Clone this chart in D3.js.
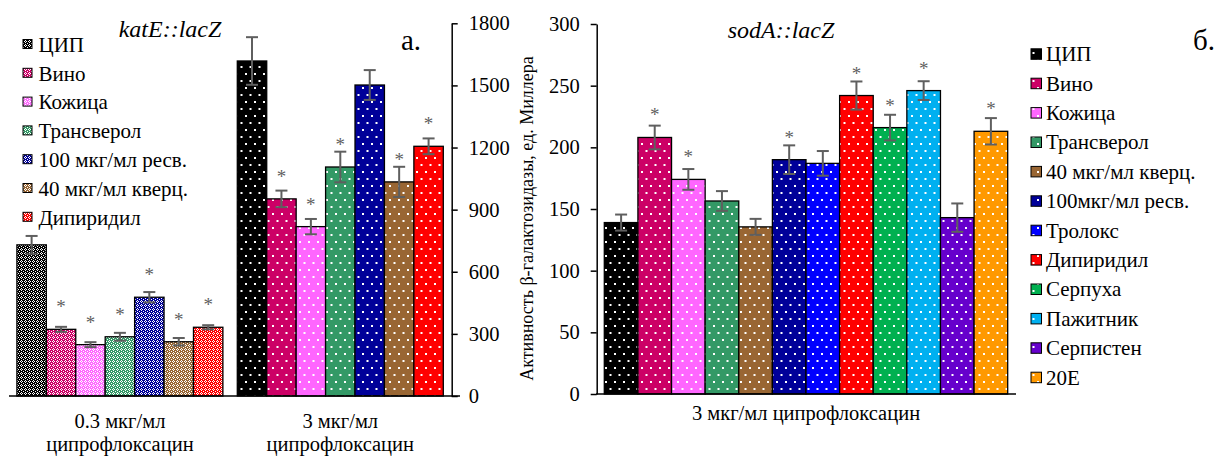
<!DOCTYPE html>
<html>
<head>
<meta charset="utf-8">
<script src="https://cdn.jsdelivr.net/npm/d3@7"></script>
<style>
  html, body { margin: 0; padding: 0; background: #fff; }
  svg { display: block; }
</style>
</head>
<body>
<svg id="chart" width="1219" height="456"></svg>
<script>
// ---- Panel a: katE::lacZ ----
const catsA = ["0.3 мкг/мл|ципрофлоксацин", "3 мкг/мл|ципрофлоксацин"];
const seriesA = ["ЦИП", "Вино", "Кожица", "Трансверол", "100 мкг/мл ресв.", "40 мкг/мл кверц.", "Дипиридил"];
const colorsA = ["#000000", "#CC0066", "#FF66FF", "#339966", "#000099", "#996633", "#FF0000"];
const valuesA03 = [730, 322, 248, 286, 477, 262, 332];
const errorsA03 = [43, 12, 12, 19, 25, 18, 10];
const starsA03 = [false, true, true, true, true, true, true];
const valuesA3 = [1618, 952, 818, 1106, 1502, 1034, 1206];
const errorsA3 = [115, 40, 37, 74, 72, 73, 38];
const starsA3 = [false, true, true, true, false, true, true];
const ticksA = [0, 300, 600, 900, 1200, 1500, 1800];

// ---- Panel б: sodA::lacZ ----
const seriesB = ["ЦИП", "Вино", "Кожица", "Трансверол", "40 мкг/мл кверц.", "100мкг/мл ресв.", "Тролокс", "Дипиридил", "Серпуха", "Пажитник", "Серпистен", "20E"];
const colorsB = ["#000000", "#CC0066", "#FF66FF", "#339966", "#996633", "#000099", "#0000FF", "#FF0000", "#00B050", "#00B0F0", "#6600CC", "#FF9900"];
const valuesB = [139, 208, 174, 156.5, 135.5, 190, 187, 242, 216, 246, 143, 213];
const errorsB = [6.5, 9.6, 8.4, 8, 6.5, 11.6, 10, 11.4, 10.4, 7.6, 11.5, 10.7];
const starsB = [false, true, true, false, false, true, false, true, true, true, false, true];
const ticksB = [0, 50, 100, 150, 200, 250, 300];
const catB = "3 мкг/мл ципрофлоксацин";

const FONT = "'Liberation Serif', Tinos, 'Times New Roman', 'DejaVu Serif', serif";
const svg = d3.select("#chart").attr("font-family", FONT);
const defs = svg.append("defs");
const ERR = "#5f5f5f";

// Fill patterns: a fine lattice and a sparse white-dot grid.
function latticePattern(color) {
  const id = "lat" + color.slice(1);
  if (!document.getElementById(id)) {
    const p = defs.append("pattern").attr("id", id).attr("patternUnits", "userSpaceOnUse")
      .attr("width", 4).attr("height", 4);
    p.append("rect").attr("width", 4).attr("height", 4).attr("fill", color);
    [[1,0],[0,1],[2,1],[1,2],[3,3]].forEach(([x, y]) =>
      p.append("rect").attr("x", x).attr("y", y).attr("width", 1).attr("height", 1).attr("fill", "#fff"));
  }
  return `url(#${id})`;
}
function dotPattern(color) {
  const id = "dot" + color.slice(1);
  if (!document.getElementById(id)) {
    const p = defs.append("pattern").attr("id", id).attr("patternUnits", "userSpaceOnUse")
      .attr("width", 9).attr("height", 14);
    p.append("rect").attr("width", 9).attr("height", 14).attr("fill", color);
    p.append("rect").attr("x", 2).attr("y", 3).attr("width", 2).attr("height", 2).attr("fill", "#fff");
    p.append("rect").attr("x", 6.5).attr("y", 10).attr("width", 2).attr("height", 2).attr("fill", "#fff");
  }
  return `url(#${id})`;
}

function label(g, x, y, size, txt) {
  return g.append("text").attr("x", x).attr("y", y).attr("font-size", size)
    .attr("font-family", FONT).attr("fill", "#000").text(txt);
}

function drawBars(g, x, y, vals, errs, stars, colors, fillFn, bw) {
  vals.forEach((v, i) => {
    g.append("rect").attr("x", x(i)).attr("y", y(v)).attr("width", bw).attr("height", y(0) - y(v))
      .attr("fill", fillFn(colors[i])).attr("stroke", "#000").attr("stroke-width", 1.3);
  });
  vals.forEach((v, i) => {
    const cx = x(i) + bw / 2;
    const e = errs[i];
    const cap = 6;
    g.append("line").attr("x1", cx).attr("x2", cx).attr("y1", y(v + e)).attr("y2", y(v - e))
      .attr("stroke", ERR).attr("stroke-width", 2);
    [v + e, v - e].forEach(t => g.append("line").attr("x1", cx - cap).attr("x2", cx + cap)
      .attr("y1", y(t)).attr("y2", y(t)).attr("stroke", ERR).attr("stroke-width", 2));
    if (stars[i]) {
      label(g, cx, y(v) - 16, 19, "*").attr("text-anchor", "middle").attr("fill", ERR);
    }
  });
}

// ===== Panel a =====
const yA = d3.scaleLinear().domain([0, 1800]).range([396, 23.3]);
const xA = d3.scaleBand().domain(catsA).range([9.7, 450.5]).paddingInner(0).paddingOuter(0);
const gA = svg.append("g");
const bwA = (xA.bandwidth() - 14.4) / seriesA.length;
[[valuesA03, errorsA03, starsA03, latticePattern], [valuesA3, errorsA3, starsA3, dotPattern]].forEach(([vals, errs, st, fn], k) => {
  const start = xA(catsA[k]) + 7.2;
  drawBars(gA, i => start + i * bwA, yA, vals, errs, st, colorsA, fn, bwA);
});

// baseline of panel a
gA.append("line").attr("x1", 9).attr("x2", 460).attr("y1", yA(0)).attr("y2", yA(0))
  .attr("stroke", "#000").attr("stroke-width", 1.5);

// value axis on the right side
const axA = svg.append("g").attr("transform", "translate(451.7,0)")
  .call(d3.axisRight(yA).tickValues(ticksA).tickFormat(d3.format("d")).tickSize(6).tickSizeOuter(0).tickPadding(11));
axA.attr("font-family", FONT);
axA.select(".domain").attr("stroke-width", 1.5);
axA.selectAll(".tick line").attr("stroke-width", 1.5);
axA.selectAll(".tick text").attr("font-size", 20.5).attr("font-family", FONT);

// category labels
catsA.forEach(c => {
  const cx = xA(c) + xA.bandwidth() / 2;
  const t = label(gA, cx, 428, 20.5, null).attr("text-anchor", "middle");
  c.split("|").forEach((line, j) => t.append("tspan").attr("x", cx).attr("dy", j ? 23 : 0).text(line));
});

// legend a
const legA = svg.append("g");
seriesA.forEach((s, i) => {
  const cy = 44 + i * 28.8;
  legA.append("rect").attr("x", 23).attr("y", cy - 4.5).attr("width", 9).attr("height", 9)
    .attr("fill", latticePattern(colorsA[i])).attr("stroke", "#000").attr("stroke-width", 1);
  label(legA, 38.5, cy + 7.7, 21, s);
});

label(svg, 170, 37, 24, "katE::lacZ").attr("text-anchor", "middle").attr("font-style", "italic");
label(svg, 401, 50, 29, "а.");

// shared axis title
label(svg, 0, 0, 18, "Активность β-галактозидазы, ед. Миллера")
  .attr("transform", "translate(533,218.5) rotate(-90)").attr("text-anchor", "middle");

// ===== Panel б =====
const yB = d3.scaleLinear().domain([0, 300]).range([394, 24]);
const xB = d3.scaleBand().domain(seriesB).range([604.3, 1007.7]).padding(0);
const gB = svg.append("g");
drawBars(gB, i => xB(seriesB[i]), yB, valuesB, errorsB, starsB, colorsB, dotPattern, xB.bandwidth());

gB.append("line").attr("x1", 596).attr("x2", 1016).attr("y1", yB(0)).attr("y2", yB(0))
  .attr("stroke", "#000").attr("stroke-width", 1.5);

const axB = svg.append("g").attr("transform", "translate(596.7,0)")
  .call(d3.axisLeft(yB).tickValues(ticksB).tickFormat(d3.format("d")).tickSize(6).tickSizeOuter(0).tickPadding(11));
axB.attr("font-family", FONT);
axB.select(".domain").attr("stroke-width", 1.5);
axB.selectAll(".tick line").attr("stroke-width", 1.5);
axB.selectAll(".tick text").attr("font-size", 20.5).attr("font-family", FONT);

label(svg, 806, 420, 20.5, catB).attr("text-anchor", "middle");

label(svg, 781, 37.5, 24, "sodA::lacZ").attr("text-anchor", "middle").attr("font-style", "italic");
label(svg, 1193, 50, 29, "б.");

// legend б
const legB = svg.append("g");
seriesB.forEach((s, i) => {
  const cy = 53.8 + i * 29.4;
  legB.append("rect").attr("x", 1031).attr("y", cy - 5).attr("width", 10.5).attr("height", 10.5)
    .attr("fill", dotPattern(colorsB[i])).attr("stroke", "#000").attr("stroke-width", 1);
  label(legB, 1046, cy + 7.3, 21, s);
});
</script>
</body>
</html>
